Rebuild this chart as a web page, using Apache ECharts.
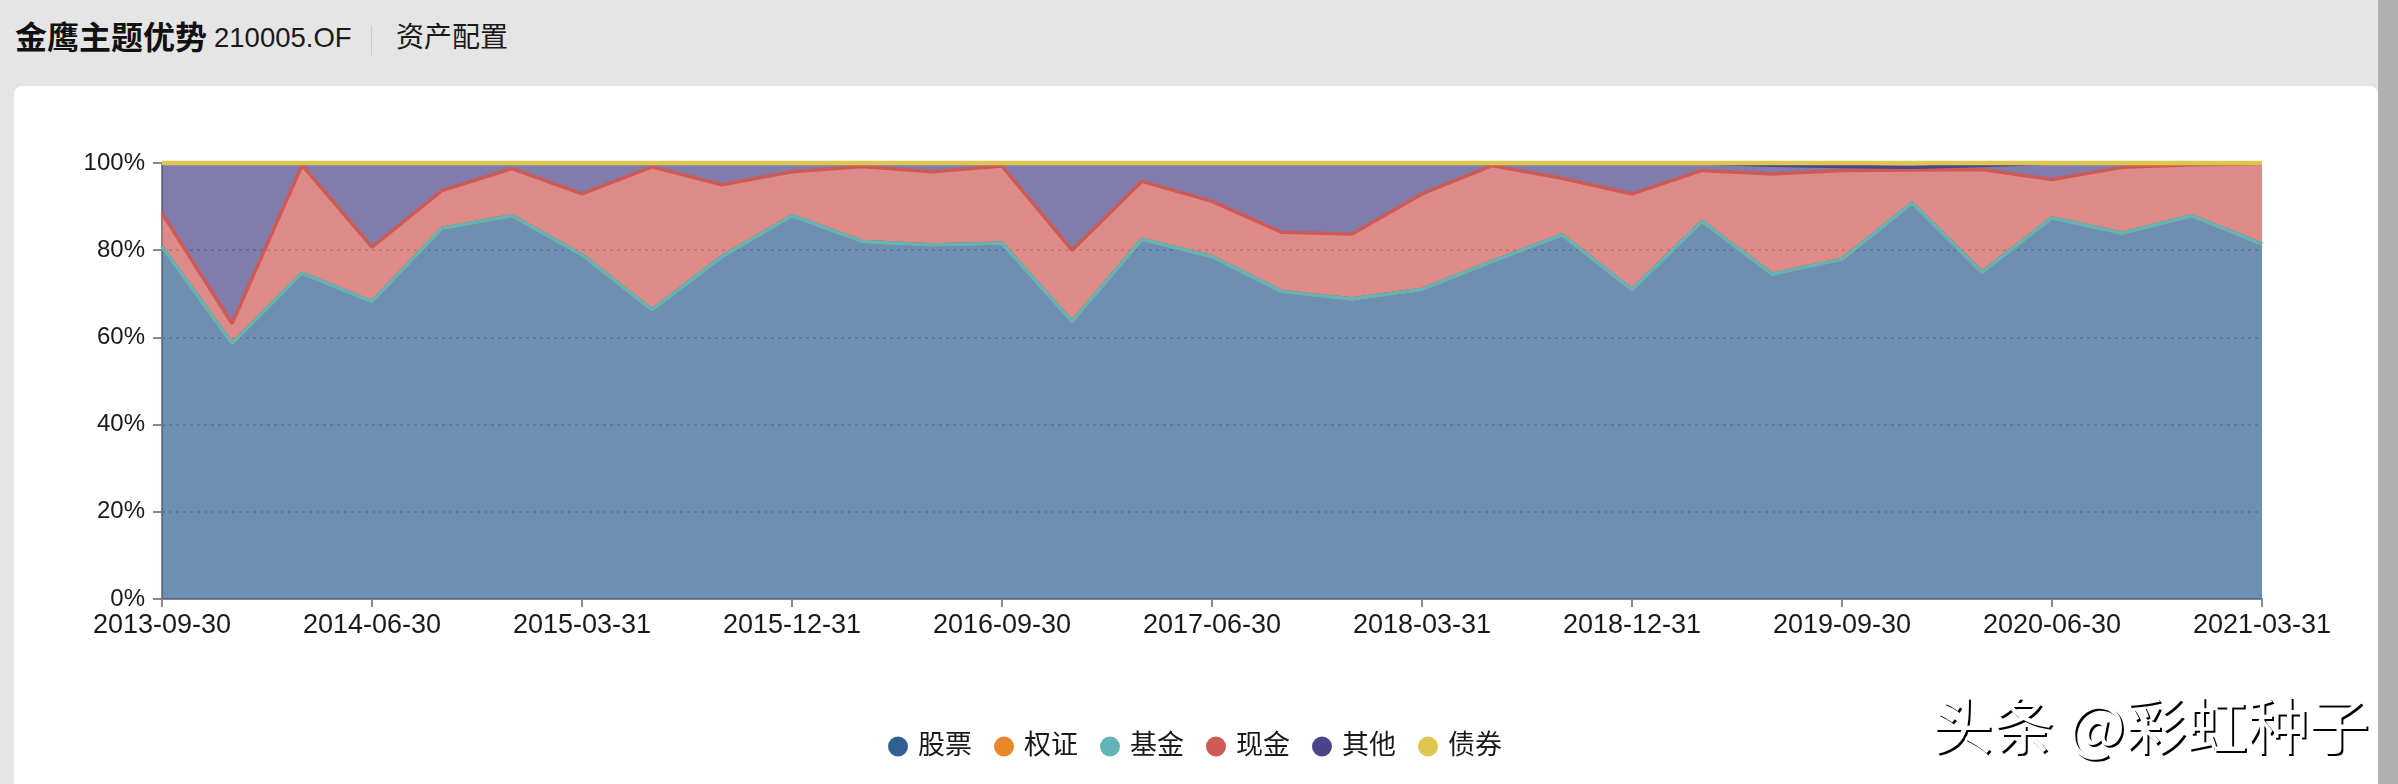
<!DOCTYPE html>
<html>
<head>
<meta charset="utf-8">
<style>
  html, body { margin: 0; width: 2398px; height: 784px; overflow: hidden; background: #e5e5e5; }
  body, div, span { font-family: "Liberation Sans", "Noto Sans CJK SC", sans-serif; color: #1a1a1a; }
  #card { position: absolute; left: 14px; top: 86px; width: 2364px; height: 698px; background: #fff; border-radius: 8px 8px 0 0; }
  #bar { position: absolute; left: 2378px; top: 0; width: 20px; height: 784px; background: #b0b0b0; }
  #chart { position: absolute; left: 0; top: 0; width: 2398px; height: 784px; }
  .head { position: absolute; white-space: nowrap; line-height: 40px; top: 18px; }
  #name { left: 15px; font-size: 32px; font-weight: bold; color: #111; }
  #code { left: 214px; font-size: 27.5px; }
  #sep { position: absolute; left: 371px; top: 26px; width: 1px; height: 29px; background: #ccc; }
  #tab { left: 396px; font-size: 28px; }
  #mark { position: absolute; left: 1932px; top: 686px; font-size: 61px; line-height: 74px; white-space: nowrap; color: #fff; text-shadow: 2px 2px 0 #000; font-family: "Noto Sans CJK SC", sans-serif; }
</style>
</head>
<body>
<div id="card"></div>
<div id="bar"></div>
<div class="head" id="name">金鹰主题优势</div>
<div class="head" id="code">210005.OF</div>
<div id="sep"></div>
<div class="head" id="tab">资产配置</div>
<div id="chart"></div>
<div id="mark">头条 @彩虹种子</div>
<script src="https://cdn.jsdelivr.net/npm/echarts@6/dist/echarts.min.js"></script>
<script>
const dates = [
  '2013-09-30','2013-12-31','2014-03-31','2014-06-30','2014-09-30','2014-12-31','2015-03-31','2015-06-30',
  '2015-09-30','2015-12-31','2016-03-31','2016-06-30','2016-09-30','2016-12-31','2017-03-31','2017-06-30',
  '2017-09-30','2017-12-31','2018-03-31','2018-06-30','2018-09-30','2018-12-31','2019-03-31','2019-06-30',
  '2019-09-30','2019-12-31','2020-03-31','2020-06-30','2020-09-30','2020-12-31','2021-03-31'
];
const stock = [80.8,58.6,74.7,68.2,85,87.9,78.9,66.3,78.5,87.9,82,81.2,81.6,63.6,82.5,78.5,70.5,68.8,71,77.4,83.5,70.9,86.6,74.5,77.9,90.8,74.9,87.4,83.9,87.9,81.4];
const warrant = [0,0,0,0,0,0,0,0,0,0,0,0,0,0,0,0,0,0,0,0,0,0,0,0,0,0,0,0,0,0,0];
const fund = [0,0,0,0,0,0,0,0,0,0,0,0,0,0,0,0,0,0,0,0,0,0,0,0,0,0,0,0,0,0,0];
const cash = [7.7,4.6,24.8,12.5,8.7,10.8,14,32.8,16.5,10.1,17.2,16.8,17.7,16.4,13.3,12.7,13.6,14.9,21.9,22,13,22,11.7,23,20.4,7.6,23.6,8.8,15.1,11.7,18.4];
const other = [11.5,36.8,0.5,19.3,6.3,1.3,7.1,0.9,5,2,0.8,2,0.7,20,4.2,8.8,15.9,16.3,7.1,0.6,3.5,7.1,1.7,2,0.9,0.6,0.9,3.8,1,0.4,0.2];
const bond = [0,0,0,0,0,0,0,0,0,0,0,0,0,0,0,0,0,0,0,0,0,0,0,0.5,0.8,1,0.6,0,0,0,0];

const colors = ['#305f92','#e8862a','#62b4b9','#cd5a55','#4a4588','#dcc650'];

function area(name, data, width) {
  return {
    name: name,
    type: 'line',
    stack: 'total',
    data: data,
    symbol: 'none',
    clip: false,
    lineStyle: { width: width || 3.5 },
    areaStyle: { opacity: 0.7 }
  };
}

const myChart = echarts.init(document.getElementById('chart'));
myChart.setOption({
  animation: false,
  color: colors,
  textStyle: { fontFamily: '"Liberation Sans", "Noto Sans CJK SC", sans-serif' },
  legend: {
    left: 883,
    top: 728,
    icon: 'circle',
    itemWidth: 30,
    itemHeight: 20,
    itemGap: 22,
    selectedMode: false,
    textStyle: { fontSize: 27, color: '#1a1a1a' },
    data: ['股票','权证','基金','现金','其他','债券']
  },
  grid: { left: 162, right: 136, top: 163, bottom: 185 },
  xAxis: {
    type: 'category',
    boundaryGap: false,
    data: dates,
    axisLine: { lineStyle: { color: '#888', width: 2 } },
    axisTick: { length: 8, interval: 2, lineStyle: { color: '#888', width: 2 } },
    axisLabel: { interval: 2, fontSize: 27, color: '#1a1a1a', margin: 13, hideOverlap: false, showMinLabel: true, showMaxLabel: true }
  },
  yAxis: {
    type: 'value',
    min: 0,
    max: 100,
    interval: 20,
    axisLine: { show: true, lineStyle: { color: '#888', width: 2 } },
    axisTick: { show: true, length: 9, lineStyle: { color: '#888', width: 2 } },
    axisLabel: { formatter: '{value}%', fontSize: 24, color: '#1a1a1a', margin: 17 },
    splitLine: { lineStyle: { type: [3, 4], color: '#b8b8b8', width: 2 } }
  },
  series: [
    area('股票', stock),
    area('权证', warrant),
    area('基金', fund),
    area('现金', cash),
    area('其他', other),
    area('债券', bond, 4.5)
  ]
});

window.addEventListener('resize', () => { myChart.resize(); });
</script>
</body>
</html>
